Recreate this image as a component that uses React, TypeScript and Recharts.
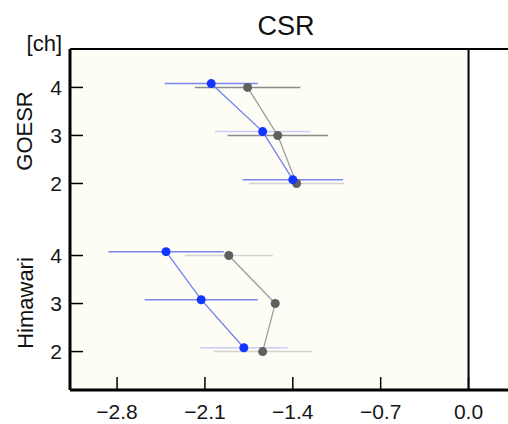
import { ScatterChart, Scatter, XAxis, YAxis, ErrorBar, ReferenceLine, ReferenceArea } from "recharts";

// channels listed top to bottom inside each instrument block
const channels = ["4", "3", "2"];

// blue series (mean bias, K) and half-width of its spread
const goesrBlue = [-2.05, -1.64, -1.4];
const goesrBlueErr = [0.37, 0.38, 0.4];
const himawariBlue = [-2.41, -2.13, -1.79];
const himawariBlueErr = [0.46, 0.45, 0.35];

// gray series
const goesrGray = [-1.76, -1.52, -1.37];
const goesrGrayErr = [0.42, 0.4, 0.38];
const himawariGray = [-1.91, -1.54, -1.64];
const himawariGrayErr = [0.35, 0, 0.39];

const xTicks = [-2.8, -2.1, -1.4, -0.7, 0.0];

// which error bars are drawn pale in the original
const blueFaint = { GOESR: ["3"], Himawari: ["2"] };
const grayFaint = { GOESR: ["2"], Himawari: ["4", "2"] };

const X_MIN = -3.175;
const X_MAX = 0.41;
const Y_MIN = -0.8;
const Y_MAX = 6.3;

const FONT = "'Liberation Sans', Arial, sans-serif";
const groupBase: Record<string, number> = { GOESR: 3.5, Himawari: 0 };
const chPos = (c: string) => Number(c) - 2;

type Row = { x: number; y: number; err: number; ch: string };

function rows(vals: number[], errs: number[], group: string, dy: number): Row[] {
  return channels.map((c, i) => ({ x: vals[i], y: groupBase[group] + chPos(c) + dy, err: errs[i], ch: c }));
}

const BLUE_DY = 0.08;
const gBlue = rows(goesrBlue, goesrBlueErr, "GOESR", BLUE_DY);
const hBlue = rows(himawariBlue, himawariBlueErr, "Himawari", BLUE_DY);
const gGray = rows(goesrGray, goesrGrayErr, "GOESR", 0);
const hGray = rows(himawariGray, himawariGrayErr, "Himawari", 0);

const split = (g: Row[], h: Row[], faint: { GOESR: string[]; Himawari: string[] }) => {
  const all = [
    ...g.map((r) => ({ ...r, pale: faint.GOESR.includes(r.ch) })),
    ...h.map((r) => ({ ...r, pale: faint.Himawari.includes(r.ch) })),
  ].filter((r) => r.err > 0);
  return { strong: all.filter((r) => !r.pale), pale: all.filter((r) => r.pale) };
};

const blueErr = split(gBlue, hBlue, blueFaint);
const grayErr = split(gGray, hGray, grayFaint);

const yTicks = ["Himawari", "GOESR"].flatMap((g) => [...channels].reverse().map((c) => groupBase[g] + chPos(c)));
const yLabel = (v: number) => String(Math.round(v >= 3.5 ? v - 3.5 : v) + 2);
const xLabel = (v: number) => (v < 0 ? "\u2212" + Math.abs(v).toFixed(1) : v.toFixed(1));

const noShape = () => <g />;
const dot = (fill: string) => (p: any) => <circle cx={p.cx} cy={p.cy} r={4.5} fill={fill} />;

const XTick = (p: any) => (
  <text x={p.x} y={p.y} dy={16} textAnchor="middle" fontSize={21} fontFamily={FONT} fill="#161616">
    {xLabel(p.payload.value)}
  </text>
);
const YTick = (p: any) => (
  <text x={p.x} y={p.y} dy={7.5} textAnchor="end" fontSize={21} fontFamily={FONT} fill="#161616">
    {yLabel(p.payload.value)}
  </text>
);

export default function App() {
  return (
    <div style={{ position: "absolute", left: 0, top: 0, width: 508, height: 424, overflow: "hidden", background: "#fff" }}>
      <ScatterChart width={520} height={424} margin={{ top: 49, right: 0, bottom: 0, left: 0 }}>
        <ReferenceArea x1={X_MIN} x2={0} y1={Y_MIN} y2={Y_MAX} fill="#fdfdf6" fillOpacity={1} stroke="none" />
        <XAxis
          type="number"
          dataKey="x"
          domain={[X_MIN, X_MAX]}
          ticks={xTicks}
          interval={0}
          allowDataOverflow
          height={34}
          tickSize={-13}
          tickMargin={26}
          tick={XTick}
          axisLine={{ stroke: "#000", strokeWidth: 3 }}
          tickLine={{ stroke: "#000", strokeWidth: 1.5 }}
        />
        <YAxis
          type="number"
          dataKey="y"
          domain={[Y_MIN, Y_MAX]}
          ticks={yTicks}
          interval={0}
          allowDataOverflow
          width={70}
          tickSize={-13}
          tickMargin={21}
          tick={YTick}
          axisLine={{ stroke: "#000", strokeWidth: 3 }}
          tickLine={{ stroke: "#000", strokeWidth: 1.5 }}
        />
        <ReferenceLine y={Y_MAX} stroke="#000" strokeWidth={2} />
        <ReferenceLine x={0} stroke="#000" strokeWidth={2} />

        <Scatter data={grayErr.pale} shape={noShape} isAnimationActive={false}>
          <ErrorBar dataKey="err" direction="x" width={0} stroke="#d2d2d2" strokeWidth={1.5} />
        </Scatter>
        <Scatter data={blueErr.pale} shape={noShape} isAnimationActive={false}>
          <ErrorBar dataKey="err" direction="x" width={0} stroke="#c9cef6" strokeWidth={1.5} />
        </Scatter>
        <Scatter data={grayErr.strong} shape={noShape} isAnimationActive={false}>
          <ErrorBar dataKey="err" direction="x" width={0} stroke="#8c8c8c" strokeWidth={1.5} />
        </Scatter>
        <Scatter data={blueErr.strong} shape={noShape} isAnimationActive={false}>
          <ErrorBar dataKey="err" direction="x" width={0} stroke="#7888f3" strokeWidth={1.5} />
        </Scatter>

        <Scatter data={gGray} line={{ stroke: "#9c9c9c", strokeWidth: 1.3 }} shape={dot("#5f5f5f")} isAnimationActive={false} />
        <Scatter data={hGray} line={{ stroke: "#9c9c9c", strokeWidth: 1.3 }} shape={dot("#5f5f5f")} isAnimationActive={false} />
        <Scatter data={gBlue} line={{ stroke: "#6f80f2", strokeWidth: 1.3 }} shape={dot("#1236ff")} isAnimationActive={false} />
        <Scatter data={hBlue} line={{ stroke: "#6f80f2", strokeWidth: 1.3 }} shape={dot("#1236ff")} isAnimationActive={false} />
      </ScatterChart>
      <svg width={508} height={424} style={{ position: "absolute", left: 0, top: 0, pointerEvents: "none" }}>
        <g fontFamily={FONT} fill="#111">
          <text x={286} y={35} fontSize={27} textAnchor="middle">CSR</text>
          <text x={62} y={51} fontSize={22} textAnchor="end">[ch]</text>
          <text transform="translate(32,131) rotate(-90)" fontSize={22} textAnchor="middle">GOESR</text>
          <text transform="translate(33,303) rotate(-90)" fontSize={22} textAnchor="middle">Himawari</text>
        </g>
      </svg>
    </div>
  );
}
